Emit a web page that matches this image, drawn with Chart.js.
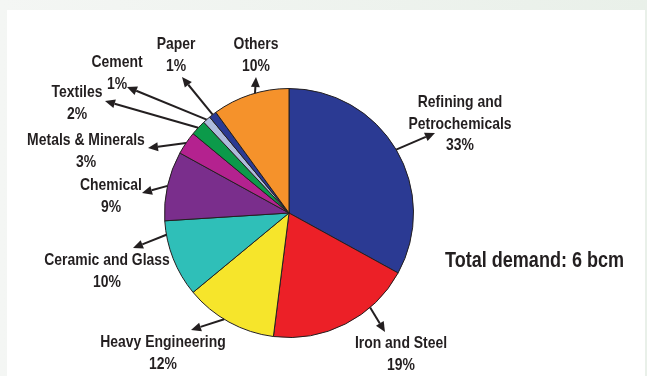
<!DOCTYPE html>
<html>
<head>
<meta charset="utf-8">
<script src="https://cdn.jsdelivr.net/npm/chart.js@4.4.1/dist/chart.umd.min.js"></script>
<style>
  html, body { margin: 0; padding: 0; }
  #frame {
    position: relative;
    width: 647px;
    height: 376px;
    overflow: hidden;
    background: linear-gradient(to right, #f4f6f4, #e9f0e9);
  }
  #sheet {
    position: absolute;
    left: 7px; top: 10px; right: 2px; bottom: 0;
    background: #ffffff;
  }
  #demand { position: absolute; left: 0; top: 0; }
</style>
</head>
<body>
<div id="frame">
  <div id="sheet"></div>
  <canvas id="demand" width="647" height="376"></canvas>
</div>
<script>
// Gas demand by sector (percent of total)
const sectors = ['Refining and Petrochemicals', 'Iron and Steel', 'Heavy Engineering', 'Ceramic and Glass',
  'Chemical', 'Metals & Minerals', 'Textiles', 'Cement', 'Paper', 'Others'];
const shares = [33, 19, 12, 10, 9, 3, 2, 1, 1, 10];
const totalNote = 'Total demand: 6 bcm';

const sliceColors = ['#2b3a93', '#ec2027', '#f6e52b', '#2fbfb8', '#7a2e8c',
  '#b4228f', '#0c9a4a', '#aebbdc', '#2b3a93', '#f5922b'];

// label text lines (percentage line is added from shares)
const labelLines = [['Refining and', 'Petrochemicals'], ['Iron and Steel'], ['Heavy Engineering'],
  ['Ceramic and Glass'], ['Chemical'], ['Metals & Minerals'], ['Textiles'], ['Cement'], ['Paper'], ['Others']];

// callout layout: label centre x / first baseline, arrow tip, where on the slice the arrow starts
const labelAt = [[460, 107], [401, 348], [163, 347], [107, 265], [111, 190],
  [86, 145], [77, 97], [117, 67], [176, 49], [256, 49]];
const arrowTip = [[435, 133], [385, 332], [191, 330], [133, 248], [142, 193],
  [148, 148], [105, 101], [127, 87], [182, 77], [256, 77]];
const anchorFrac = [0.5, 0.3, 0.56, 0.82, 0.5, 0.5, 0.5, 0.5, 0.5, 0.56];

const inkColor = '#231f20';
// no narrow face installed, so the bold sans is squeezed horizontally
const narrow = 0.82;
const labelFont = 'bold 17px "Liberation Sans", Arial, sans-serif';
const noteFont = 'bold 22px "Liberation Sans", Arial, sans-serif';

function narrowText(ctx, text, x, y, align) {
  ctx.save();
  ctx.translate(x, y);
  ctx.scale(narrow, 1);
  ctx.textAlign = align;
  ctx.textBaseline = 'alphabetic';
  ctx.fillText(text, 0, 0);
  ctx.restore();
}

function drawArrow(ctx, x0, y0, x1, y1) {
  const ang = Math.atan2(y1 - y0, x1 - x0);
  const headLen = 10, headHalf = 4.5;
  const bx = x1 - Math.cos(ang) * headLen;
  const by = y1 - Math.sin(ang) * headLen;
  ctx.beginPath();
  ctx.moveTo(x0, y0);
  ctx.lineTo(bx, by);
  ctx.lineWidth = 2;
  ctx.strokeStyle = inkColor;
  ctx.stroke();
  ctx.beginPath();
  ctx.moveTo(x1, y1);
  ctx.lineTo(bx - Math.sin(ang) * headHalf, by + Math.cos(ang) * headHalf);
  ctx.lineTo(bx + Math.sin(ang) * headHalf, by - Math.cos(ang) * headHalf);
  ctx.closePath();
  ctx.fillStyle = inkColor;
  ctx.fill();
}

const calloutPlugin = {
  id: 'callouts',
  afterDraw(chart) {
    const ctx = chart.ctx;
    const arcs = chart.getDatasetMeta(0).data;
    ctx.save();
    arcs.forEach((arc, i) => {
      const p = arc.getProps(['x', 'y', 'startAngle', 'endAngle', 'outerRadius'], true);
      const a = p.startAngle + anchorFrac[i] * (p.endAngle - p.startAngle);
      const sx = p.x + Math.cos(a) * p.outerRadius;
      const sy = p.y + Math.sin(a) * p.outerRadius;
      drawArrow(ctx, sx, sy, arrowTip[i][0], arrowTip[i][1]);

      ctx.font = labelFont;
      ctx.fillStyle = inkColor;
      const lines = labelLines[i].concat([shares[i] + '%']);
      lines.forEach((t, k) => narrowText(ctx, t, labelAt[i][0], labelAt[i][1] + k * 21.5, 'center'));
    });

    ctx.font = noteFont;
    ctx.fillStyle = inkColor;
    narrowText(ctx, totalNote, 445, 267, 'left');
    ctx.restore();
  }
};

new Chart(document.getElementById('demand'), {
  type: 'pie',
  data: {
    labels: sectors,
    datasets: [{
      data: shares,
      backgroundColor: sliceColors,
      borderColor: inkColor,
      borderWidth: 1
    }]
  },
  options: {
    responsive: false,
    animation: false,
    events: [],
    layout: { padding: { left: 164, right: 233, top: 88, bottom: 38 } },
    plugins: {
      legend: { display: false },
      tooltip: { enabled: false }
    }
  },
  plugins: [calloutPlugin]
});
</script>
</body>
</html>
